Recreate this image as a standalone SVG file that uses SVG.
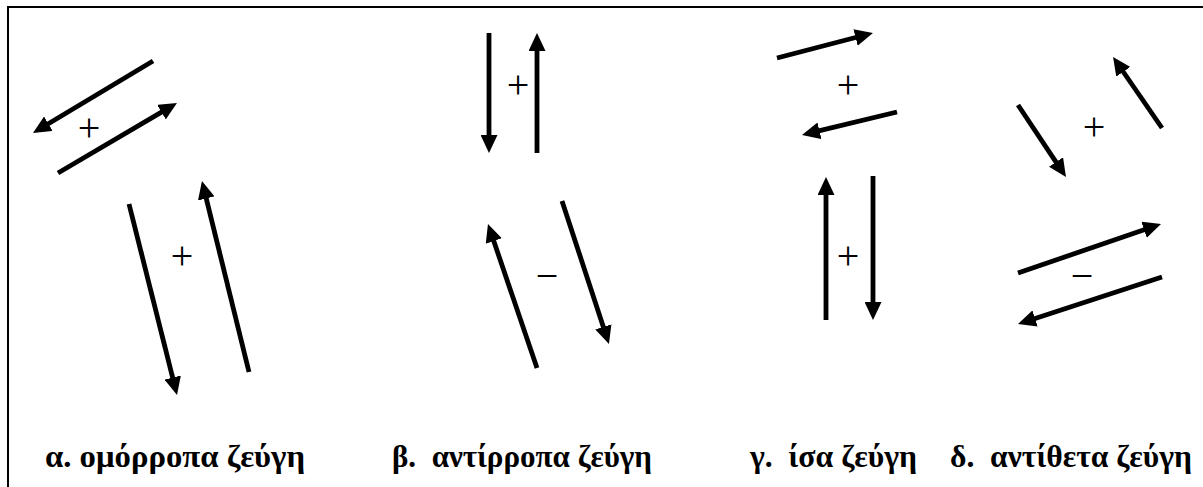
<svg xmlns="http://www.w3.org/2000/svg" width="1203" height="487" viewBox="0 0 1203 487">
<style>
.ar{stroke:#000;stroke-width:4.8;fill:none;marker-end:url(#ah)}
.sg{font-family:"Liberation Serif","DejaVu Serif",serif;font-size:40px;text-anchor:middle;fill:#000}
.lb{font-family:"Liberation Serif","DejaVu Serif",serif;font-size:31px;font-weight:bold;fill:#000}
</style>
<defs>
<marker id="ah" markerUnits="userSpaceOnUse" markerWidth="18" markerHeight="17" viewBox="0 0 18 17" refX="4" refY="8.5" orient="auto">
<path d="M0,0 L18,8.5 L0,17 z" fill="#000"/>
</marker>
</defs>
<path id="frame" d="M8,487 V7 H1203" fill="none" stroke="#000" stroke-width="2"/>
<g id="connectors">
<line class="ar" x1="153" y1="61" x2="45" y2="125.8"/>
<line class="ar" x1="58" y1="173" x2="164.9" y2="110.1"/>
<line class="ar" x1="129" y1="204" x2="173.6" y2="381.4"/>
<line class="ar" x1="249" y1="372" x2="205.3" y2="194.6"/>
<line class="ar" x1="489" y1="33" x2="489" y2="139"/>
<line class="ar" x1="537" y1="153" x2="537" y2="47"/>
<line class="ar" x1="537" y1="368" x2="492.5" y2="237.3"/>
<line class="ar" x1="562" y1="201" x2="604.6" y2="330.7"/>
<line class="ar" x1="777" y1="58" x2="859.4" y2="36.5"/>
<line class="ar" x1="897" y1="112" x2="815.6" y2="131.7"/>
<line class="ar" x1="826" y1="320" x2="826" y2="191"/>
<line class="ar" x1="873" y1="176" x2="873" y2="306"/>
<line class="ar" x1="1018" y1="105" x2="1058.2" y2="165.3"/>
<line class="ar" x1="1162" y1="128" x2="1121" y2="68.5"/>
<line class="ar" x1="1018" y1="273" x2="1147.8" y2="228.5"/>
<line class="ar" x1="1162" y1="277" x2="1031.3" y2="319.7"/>
</g>
<g id="signs">
<text class="sg" x="89" y="141">+</text>
<text class="sg" x="182" y="269">+</text>
<text class="sg" x="518" y="98">+</text>
<text class="sg" x="848" y="98">+</text>
<text class="sg" x="848" y="269">+</text>
<text class="sg" x="1094" y="140">+</text>
<text class="sg" x="547" y="289">−</text>
<text class="sg" x="1082" y="289">−</text>
</g>
<g id="label-a"><text class="lb" x="45" y="467" textLength="260" lengthAdjust="spacingAndGlyphs">α. ομόρροπα ζεύγη</text></g>
<g id="label-b"><text class="lb" x="392" y="467" textLength="260" lengthAdjust="spacingAndGlyphs">β.&#160; αντίρροπα ζεύγη</text></g>
<g id="label-c"><text class="lb" x="750" y="467" textLength="167" lengthAdjust="spacingAndGlyphs">γ.&#160; ίσα ζεύγη</text></g>
<g id="label-d"><text class="lb" x="950" y="467" textLength="242" lengthAdjust="spacingAndGlyphs">δ.&#160; αντίθετα ζεύγη</text></g>
</svg>
